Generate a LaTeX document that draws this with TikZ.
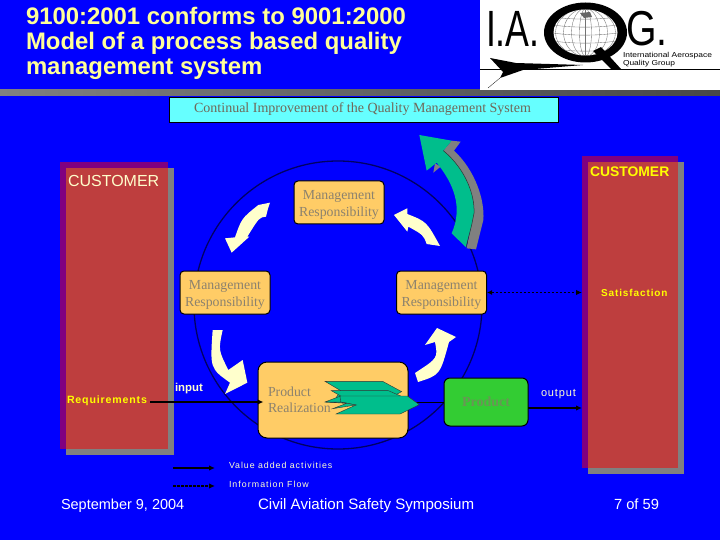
\documentclass[tikz,border=0pt]{standalone}
\usepackage{fontspec}
\setmainfont{Liberation Sans}
\newfontfamily\tnr{Liberation Serif}
\usetikzlibrary{arrows.meta}
\definecolor{bg}{RGB}{0,0,255}
\definecolor{cream}{RGB}{255,255,204}
\definecolor{titlecol}{RGB}{255,255,153}
\definecolor{orangebox}{RGB}{255,204,102}
\definecolor{redbox}{RGB}{190,62,62}
\definecolor{purp}{RGB}{128,0,128}
\definecolor{shadowgray}{RGB}{128,128,128}
\definecolor{teal2}{RGB}{0,190,140}
\definecolor{greenbox}{RGB}{51,204,51}
\definecolor{navy2}{RGB}{0,0,100}
\definecolor{gtxt}{RGB}{140,130,110}
\definecolor{yel}{RGB}{255,255,0}
\definecolor{cyanbox}{RGB}{102,255,255}
\definecolor{prodtx}{RGB}{105,150,85}
\newcommand{\mrtext}{\rule{0pt}{13pt}Management\\Responsibility}
\tikzset{
  rectnode/.style={rectangle,inner sep=0pt,outer sep=0pt,anchor=north west},
  mgmt/.style={rectangle,rounded corners=4pt,draw=black,line width=1pt,fill=orangebox,inner sep=0pt,
    minimum width=90pt,minimum height=43pt,align=center,text=gtxt,font=\tnr\fontsize{13.8}{17}\selectfont},
  flow/.style={draw=black,line width=1.3pt,-{Latex[length=6pt,width=5.5pt]}},
  info/.style={draw=black,line width=1.2pt,dash pattern=on 2.5pt off 1.5pt,{Latex[length=5pt,width=5pt]}-{Latex[length=6pt,width=5.5pt]}},
  lbl/.style={inner sep=0pt,outer sep=0pt}
}
\begin{document}
\begin{tikzpicture}[x=1pt,y=-1pt]
\useasboundingbox (0,0) rectangle (720,540);
\fill[bg] (0,0) rectangle (720,540);
% header
\fill[left color=shadowgray,right color=black!72] (0,90) rectangle (720,96);
\fill[white] (480,0) rectangle (720,90);
\node[lbl,anchor=north west,align=left,text=titlecol,font=\bfseries\fontsize{23.9}{25}\selectfont] (title) at (26,7)
  {9100:2001 conforms to 9001:2000\\Model of a process based quality\\management system};
% logo
\fill[black] (585.5,32.5) ellipse [x radius=41.5,y radius=30];
\fill[white] (585.5,32.5) ellipse [x radius=32,y radius=23];
\begin{scope}
  \clip (585.5,32.5) ellipse [x radius=32,y radius=23];
  \foreach \r in {6,14,22,30}{\draw[black!55,line width=.35pt] (585.5,32.5) ellipse [x radius=\r,y radius=24];}
  \draw[black!55,line width=.35pt] (585.5,0) -- (585.5,60);
  \foreach \d in {-16,-8,0,8,16}{\draw[black!55,line width=.35pt] (550,32.5+\d) .. controls (570,36+\d) and (600,36+\d) .. (620,32.5+\d);}
  \fill[black!60] (580,13) -- (590,12) -- (592,17) -- (584,18) -- cycle;
\end{scope}
\fill[black] (593,51) -- (601,47) -- (621,69) -- (611,69) -- cycle;
\node[lbl,anchor=base west,font=\addfontfeature{FakeStretch=0.7}\fontsize{51}{51}\selectfont] (logoia) at (486,47) {I.A.};
\node[lbl,anchor=base west,font=\addfontfeature{FakeStretch=0.8}\fontsize{49}{49}\selectfont] (logog) at (626,46) {G.};
\node[lbl,anchor=north west,align=left,font=\addfontfeature{FakeStretch=1.17}\fontsize{7.2}{8}\selectfont] (logotxt) at (623,52.5) {International Aerospace\\Quality Group};
\draw[black,line width=.5pt] (480,69.5) -- (720,69.5);
\fill[black] (490,58) -- (516,63) -- (583,65) -- (523,70) -- (500,78) -- (503,72) -- cycle;
\draw[black,line width=.3pt] (488,88) -- (500,78);
% top box
\node[rectnode,draw=black,line width=.5pt,fill=cyanbox,minimum width=389pt,minimum height=25pt] (ci) at (169,97) {};
\node[lbl,text=gtxt!80!black,font=\tnr\fontsize{14}{15}\selectfont] (citxt) at ([xshift=-1pt]ci.center) {Continual Improvement of the Quality Management System};
% customers
\fill[shadowgray] (66,168) rectangle (174,455);
\node[rectnode,fill=purp,minimum width=108pt,minimum height=287pt] (custL) at (60,162) {};
\fill[redbox] (66,168) rectangle (168,449);
\fill[shadowgray] (588,162) rectangle (684,474);
\node[rectnode,fill=purp,minimum width=96pt,minimum height=312pt] (custR) at (582,156) {};
\fill[redbox] (588,162) rectangle (678,468);
\node[lbl,anchor=west,text=cream,font=\fontsize{16}{18}\selectfont] (cl) at (68,180.5) {CUSTOMER};
\node[lbl,anchor=west,text=yel,font=\bfseries\fontsize{13.9}{15}\selectfont] (cr) at (590,172) {CUSTOMER};
\node[lbl,anchor=west,text=yel,font=\bfseries\addfontfeature{LetterSpace=8}\fontsize{10.6}{12}\selectfont] (req) at (67,401) {Requirements};
\node[lbl,anchor=west,text=yel,font=\bfseries\addfontfeature{LetterSpace=9}\fontsize{10}{12}\selectfont] (sat) at (601,293) {Satisfaction};
% circle
\draw[navy2,line width=1.3pt] (338,305) circle (144);
% green arrow
\begin{scope}[shift={(170,120)},scale=1/3]
  \fill[shadowgray] (890,385) -- (905,310) .. controls (915,230) and (880,150) .. (820,92) -- (845,62) -- (872,65) -- (852,92)
    .. controls (915,150) and (945,240) .. (940,300) -- (918,388) -- cycle;
  \fill[shadowgray] (790,158) -- (795,130) -- (812,140) -- cycle;
  \fill[teal2] (888,382) -- (845,340) .. controls (880,260) and (850,190) .. (800,128) -- (770,152) -- (748,45) -- (845,62) -- (820,92)
    .. controls (890,150) and (915,230) .. (912,280) -- (905,315) -- cycle;
  \draw[black!80,line width=.5pt] (888,382) -- (905,315) -- (912,280) .. controls (915,230) and (890,150) .. (820,92);
  % cream arrows
  \fill[cream] (300,248) .. controls (294,265) .. (288,290) .. controls (268,292) .. (232,350) -- (238,350) -- (185,398) -- (165,355) -- (195,352) .. controls (215,295) .. (265,255) -- cycle;
  \fill[cream] (810,378) -- (770,372) .. controls (760,345) .. (715,320) -- (712,335) -- (672,285) -- (712,265) -- (712,282) .. controls (770,305) .. (810,378) -- cycle;
\end{scope}
\begin{scope}[shift={(170,340)},scale=1/3]
  \fill[cream] (128,-30) -- (158,-30) .. controls (145,30) .. (175,90) -- (218,60) -- (232,128) -- (165,162) -- (180,128) .. controls (120,85) .. (128,-30) -- cycle;
\end{scope}
\fill[cream] (415,373) -- (418,382) .. controls (440,375) .. (449,342) -- (456,337) -- (437,328) -- (425,345) -- (435,342) .. controls (438,358) .. (415,373) -- cycle;
% boxes
\node[mgmt] (m1) at (339,202.5) {\mrtext};
\node[mgmt] (m2) at (225,292.5) {\mrtext};
\node[mgmt] (m3) at (441.5,292.5) {\mrtext};
\node[rectangle,rounded corners=9pt,draw=black,line width=1pt,fill=orangebox,minimum width=150pt,minimum height=76pt,inner sep=0pt] (pr) at (333,400) {};
\node[rectangle,rounded corners=6pt,draw=black,line width=1pt,fill=greenbox,minimum width=84pt,minimum height=48pt,inner sep=0pt] (prod) at (486,402) {};
\node[lbl,anchor=west,align=left,text=gtxt,font=\tnr\fontsize{13.8}{16.5}\selectfont] (prtxt) at (268,400) {Product\\Realization};
\node[lbl,text=prodtx,font=\tnr\bfseries\fontsize{14}{15}\selectfont] (prodtxt) at (486,402) {Product};
% connectors
\coordinate (inA) at (150,402);
\coordinate (outA) at (528,408);
\coordinate (legA) at (173,468);
\coordinate (legB) at (215,468);
\coordinate (legC) at (173,486);
\coordinate (legD) at (215,486);
\draw[flow] (inA) -- ([xshift=6pt]pr.west |- inA);
\draw[black,line width=.7pt] (pr.east |- prod.west) -- (prod.west);
\draw[flow] (outA) -- (custR.west |- outA);
\draw[info] (m3.east) -- (custR.west |- m3.east);
% chevrons
\begin{scope}[shift={(170,340)},scale=1/3]
  \filldraw[fill=teal2,draw=black!80,line width=.4pt] (465,124) -- (638,124) -- (695,155) -- (650,178) -- (495,178) -- (512,152) -- cycle;
  \filldraw[fill=teal2,draw=black!80,line width=.4pt] (484,152) -- (655,152) -- (720,180) -- (660,195) -- (465,186) -- (512,168) -- cycle;
  \filldraw[fill=teal2,draw=black!80,line width=.4pt] (510,168) -- (712,168) -- (748,194) -- (690,222) -- (498,222) -- (558,195) -- (512,186) -- cycle;
  \filldraw[fill=teal2,draw=black!80,line width=.4pt] (465,186) -- (512,186) -- (558,195) -- (488,206) -- (530,190) -- cycle;
\end{scope}
% labels
\node[lbl,anchor=west,text=cream,font=\bfseries\fontsize{11.4}{13}\selectfont] (inp) at (175,389) {input};
\node[lbl,anchor=west,text=cream,font=\addfontfeature{LetterSpace=8}\fontsize{11}{13}\selectfont] (outp) at (541,394) {output};
% legend
\draw[flow] (legA) -- (legB);
\draw[draw=black,line width=1.2pt,dash pattern=on 2.5pt off 1.5pt,-{Latex[length=6pt,width=5.5pt]}] (legC) -- (legD);
\node[lbl,anchor=west,text=cream,font=\addfontfeature{LetterSpace=11}\fontsize{8.8}{10}\selectfont] (lv) at (229,465.5) {Value added activities};
\node[lbl,anchor=west,text=cream,font=\addfontfeature{LetterSpace=12}\fontsize{8.8}{10}\selectfont] (li) at (229,484) {Information Flow};
% footer
\node[lbl,anchor=base west,text=white,font=\fontsize{14.5}{16}\selectfont] (f1) at (61,509) {September 9, 2004};
\node[lbl,anchor=base west,text=white,font=\fontsize{15.1}{17}\selectfont] (f2) at (258,509) {Civil Aviation Safety Symposium};
\node[lbl,anchor=base west,text=white,font=\fontsize{14.7}{16}\selectfont] (f3) at (614,509) {7 of 59};
\end{tikzpicture}
\end{document}
